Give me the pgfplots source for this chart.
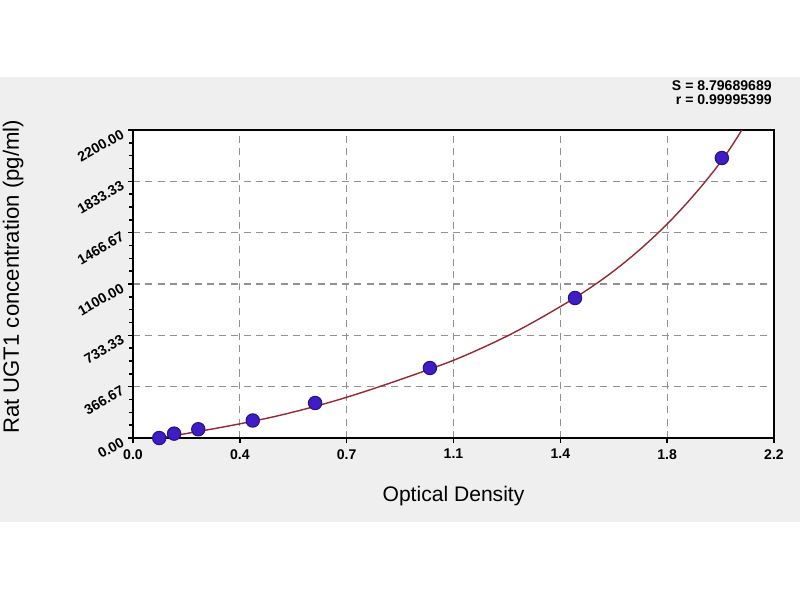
\documentclass[border=0pt]{standalone}
\usepackage{fontspec}
\setmainfont{Liberation Sans}
\usepackage{pgfplots}
\pgfplotsset{compat=1.18}

\definecolor{panelgray}{RGB}{239,239,239}
\definecolor{curvered}{RGB}{150,40,50}
\definecolor{dotfill}{RGB}{62,30,195}
\definecolor{dotedge}{RGB}{40,15,140}
\definecolor{gridgray}{RGB}{145,145,145}

\begin{document}
\begin{tikzpicture}
\useasboundingbox (0,0) rectangle (16,12);
\fill[white] (0,0) rectangle (16,12);
\fill[panelgray] (0,1.56) rectangle (16,10.46);

% fit statistics, top right
\node[anchor=east, font=\fontsize{8}{9}\selectfont\bfseries, inner sep=0pt] at (15.44,10.28) {S = 8.79689689};
\node[anchor=east, font=\fontsize{8}{9}\selectfont\bfseries, inner sep=0pt] at (15.44,10.00) {r = 0.99995399};

\begin{axis}[
    at={(2.66cm,3.24cm)}, anchor=south west,
    scale only axis,
    width=12.82cm, height=6.16cm,
    xmin=0, xmax=2.2, ymin=0, ymax=2200,
    axis background/.style={fill=white},
    axis line style={line width=1pt},
    xtick={0,0.366667,0.733333,1.1,1.466667,1.833333,2.2},
    xticklabels={0.0,0.4,0.7,1.1,1.4,1.8,2.2},
    ytick={0,366.6667,733.3333,1100,1466.6667,1833.3333,2200},
    yticklabels={0.00,366.67,733.33,1100.00,1466.67,1833.33,2200.00},
    minor x tick num=3, minor y tick num=3,
    xtick pos=left, ytick pos=left,
    tick align=outside,
    major tick length=0.1cm, minor tick length=0.08cm,
    tick style={black, line width=0.8pt},
    grid=major,
    major grid style={gridgray, line width=0.6pt, dash pattern=on 4pt off 3pt},
    ticklabel style={font=\fontsize{8}{9}\selectfont\bfseries},
    yticklabel style={rotate=30, anchor=east},
    xlabel={Optical Density},
    ylabel={Rat UGT1 concentration (pg/ml)},
    xlabel style={font=\fontsize{12}{14}\selectfont, at={(axis description cs:0.5,-0.19)}, anchor=center},
    ylabel style={font=\fontsize{12.6}{14}\selectfont, at={(axis description cs:-0.187,0.523)}, anchor=center},
]
% fitted curve
\addplot[color=curvered, line width=0.8pt, smooth, no markers] coordinates {
    (0.085,0) (0.14,17) (0.2,38) (0.3,75) (0.4,115) (0.5,160) (0.6,212)
    (0.7,270) (0.8,335) (0.9,405) (1.0,478) (1.1,555) (1.2,645) (1.3,745)
    (1.4,858) (1.5,980) (1.55,1046) (1.6,1117) (1.65,1193) (1.7,1276)
    (1.75,1365) (1.8,1461) (1.85,1564) (1.9,1676) (1.95,1796) (2.0,1925)
    (2.05,2070) (2.1,2235)
};
% standards
\addplot[only marks, mark=*, mark size=3.8pt, mark options={fill=dotfill, draw=dotedge, line width=0.6pt}] coordinates {
    (0.090,0) (0.141,31.25) (0.224,62.5) (0.411,125) (0.625,250)
    (1.019,500) (1.517,1000) (2.021,2000)
};
\end{axis}
\end{tikzpicture}
\end{document}
